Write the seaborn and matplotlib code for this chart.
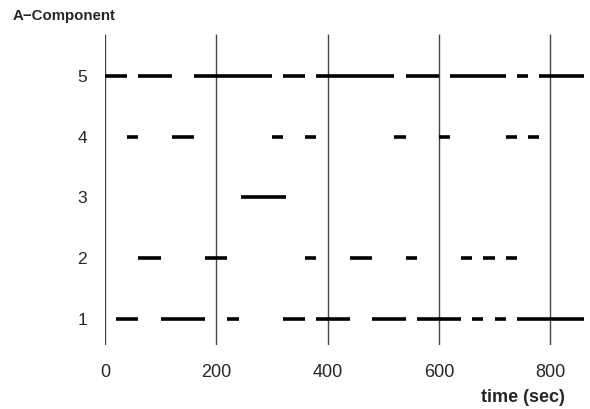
import pandas as pd
import matplotlib
matplotlib.use("Agg")
import matplotlib.pyplot as plt
import seaborn as sns

sns.set_style("white")
plt.rcParams['font.family'] = ['Liberation Sans', 'DejaVu Sans']
plt.rcParams['lines.solid_capstyle'] = 'butt'

# on-intervals (sec) for each component level
level_1 = [(20, 60), (100, 180), (220, 240), (320, 360), (380, 440), (480, 540),
           (560, 640), (660, 680), (700, 720), (740, 860)]
level_2 = [(60, 100), (180, 220), (360, 380), (440, 480), (540, 560),
           (640, 660), (680, 700), (720, 740)]
level_3 = [(245, 325)]
level_4 = [(40, 60), (120, 160), (300, 320), (360, 380), (520, 540),
           (600, 620), (720, 740), (760, 780)]
level_5 = [(0, 40), (60, 120), (160, 300), (320, 360), (380, 520), (540, 600),
           (620, 720), (740, 760), (780, 860)]
levels = [1, 2, 3, 4, 5]
marks = [0, 200, 400, 600, 800]

rows = []
seg = 0
for lv, ivals in zip(levels, [level_1, level_2, level_3, level_4, level_5]):
    for a, b in ivals:
        rows.append({"seg": seg, "time": a, "level": lv})
        rows.append({"seg": seg, "time": b, "level": lv})
        seg += 1
df = pd.DataFrame(rows)

fig = plt.figure(figsize=(5.9, 4.09), dpi=100)
ax = fig.add_axes([0.178, 0.157, 0.813, 0.761])

for m in marks:
    ax.axvline(m, color="#444444", lw=1.0, zorder=1)

sns.lineplot(data=df, x="time", y="level", units="seg", estimator=None,
             color="black", lw=2.6, ax=ax, zorder=2)

ax.set_xlim(0, 862)
ax.set_ylim(0.57, 5.7)
ax.set_xticks(marks)
ax.set_yticks(levels)
ax.tick_params(axis="x", length=0, pad=14, labelsize=13)
ax.tick_params(axis="y", length=0, pad=13, labelsize=12.5)
ax.set_xlabel("")
ax.set_ylabel("")
sns.despine(ax=ax, left=True, bottom=True)

fig.text(0.021, 0.961, "A\u2212Component", fontsize=10.8, fontweight="bold", va="center")
fig.text(0.886, 0.029, "time (sec)", fontsize=13, fontweight="bold", ha="center", va="center")

fig.savefig("out.png", dpi=100)
